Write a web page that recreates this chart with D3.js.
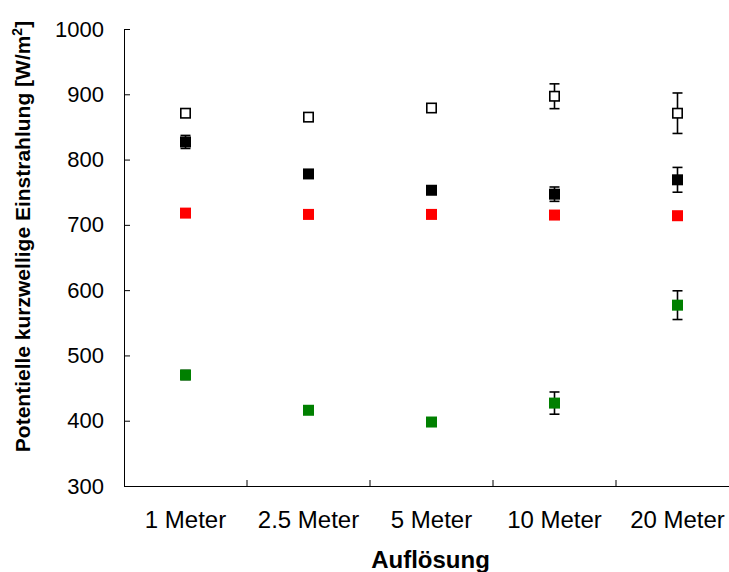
<!DOCTYPE html>
<html>
<head>
<meta charset="utf-8">
<script src="https://cdn.jsdelivr.net/npm/d3@7"></script>
<style>
  html, body { margin: 0; padding: 0; background: #fff; }
  svg { display: block; }
  text { font-family: Arial, "Liberation Sans", sans-serif; }
</style>
</head>
<body>
<svg id="chart" width="729" height="572"></svg>
<script>
const categories = ["1 Meter", "2.5 Meter", "5 Meter", "10 Meter", "20 Meter"];
const yTicks = [300, 400, 500, 600, 700, 800, 900, 1000];

const openValues  = [871, 865, 879, 897, 871];
const openErrors  = [2, 2, 2, 19, 31];
const blackValues = [827, 778, 753, 747, 769];
const blackErrors = [10, 3, 3, 11, 19];
const redValues   = [718, 716, 716, 715, 714];
const redErrors   = [2, 2, 2, 2, 2];
const greenValues = [470, 416, 398, 427, 577];
const greenErrors = [7, 3, 3, 17, 22];

const series = [
  { name: "open",  values: openValues,  errors: openErrors,  fill: "#ffffff", stroke: "#000000", sw: 1.6 },
  { name: "black", values: blackValues, errors: blackErrors, fill: "#000000", stroke: "none", sw: 0 },
  { name: "red",   values: redValues,   errors: redErrors,   fill: "#ff0000", stroke: "none", sw: 0 },
  { name: "green", values: greenValues, errors: greenErrors, fill: "#008000", stroke: "none", sw: 0 }
];

const svg = d3.select("#chart");
const pLeft = 124, pRight = 739, pTop = 29, pBottom = 486;

const x = d3.scaleBand().domain(categories).range([pLeft, pRight]).padding(0);
const y = d3.scaleLinear().domain([300, 1000]).range([pBottom, pTop]);

// Y axis
const yAxis = d3.axisLeft(y).tickValues(yTicks).tickFormat(d3.format("d"))
  .tickSizeInner(-6).tickSizeOuter(0).tickPadding(20);
const gy = svg.append("g").attr("transform", `translate(${pLeft},0)`).call(yAxis);
gy.selectAll("text").attr("font-size", 22).attr("fill", "#000").attr("font-family", "Arial, 'Liberation Sans', sans-serif");
gy.selectAll("line").attr("stroke", "#000");
gy.select(".domain").attr("stroke", "#000");

// X axis
const xAxis = d3.axisBottom(x).tickSize(0).tickPadding(25);
const gx = svg.append("g").attr("transform", `translate(0,${pBottom})`).call(xAxis);
gx.selectAll("text").attr("font-size", 24).attr("fill", "#000").attr("font-family", "Arial, 'Liberation Sans', sans-serif");
gx.select(".domain").attr("stroke", "#000");
const bounds = categories.slice(1).map(c => x(c)).concat([x.range()[1]]);
gx.selectAll(".btick").data(bounds).enter().append("line")
  .attr("x1", d => d).attr("x2", d => d).attr("y1", 0).attr("y2", -6)
  .attr("stroke", "#000");

// Titles
svg.append("text")
  .attr("x", (pLeft + pRight) / 2 - 1).attr("y", 568)
  .attr("text-anchor", "middle").attr("font-size", 24).attr("font-weight", "bold")
  .text("Auflösung");

const yt = svg.append("text")
  .attr("transform", `translate(30,${(pTop + pBottom) / 2 - 21}) rotate(-90)`)
  .attr("text-anchor", "middle").attr("font-size", 21).attr("font-weight", "bold");
yt.append("tspan").text("Potentielle kurzwellige Einstrahlung [W/m");
yt.append("tspan").attr("font-size", 14).attr("dy", -8).text("2");
yt.append("tspan").attr("dy", 8).text("]");

// Error bars
const cap = 5;
const g = svg.append("g");
series.forEach(s => {
  const pts = categories.map((c, i) => ({ c, v: s.values[i], e: s.errors[i] }));
  const eg = g.append("g");
  const cx = d => x(d.c) + x.bandwidth() / 2;
  eg.selectAll("line.v").data(pts).enter().append("line")
    .attr("x1", cx).attr("x2", cx)
    .attr("y1", d => y(d.v + d.e)).attr("y2", d => y(d.v - d.e))
    .attr("stroke", "#000").attr("stroke-width", 1.6);
  eg.selectAll("line.t").data(pts).enter().append("line")
    .attr("x1", d => cx(d) - cap).attr("x2", d => cx(d) + cap)
    .attr("y1", d => y(d.v + d.e)).attr("y2", d => y(d.v + d.e))
    .attr("stroke", "#000").attr("stroke-width", 1.6);
  eg.selectAll("line.b").data(pts).enter().append("line")
    .attr("x1", d => cx(d) - cap).attr("x2", d => cx(d) + cap)
    .attr("y1", d => y(d.v - d.e)).attr("y2", d => y(d.v - d.e))
    .attr("stroke", "#000").attr("stroke-width", 1.6);
});

// Markers
const ms = 11;
series.forEach(s => {
  const pts = categories.map((c, i) => ({ c, v: s.values[i] }));
  const size = s.sw ? ms - s.sw : ms;
  g.append("g").selectAll("rect").data(pts).enter().append("rect")
    .attr("x", d => x(d.c) + x.bandwidth() / 2 - size / 2)
    .attr("y", d => y(d.v) - size / 2)
    .attr("width", size).attr("height", size)
    .attr("fill", s.fill).attr("stroke", s.stroke).attr("stroke-width", s.sw);
});
</script>
</body>
</html>
